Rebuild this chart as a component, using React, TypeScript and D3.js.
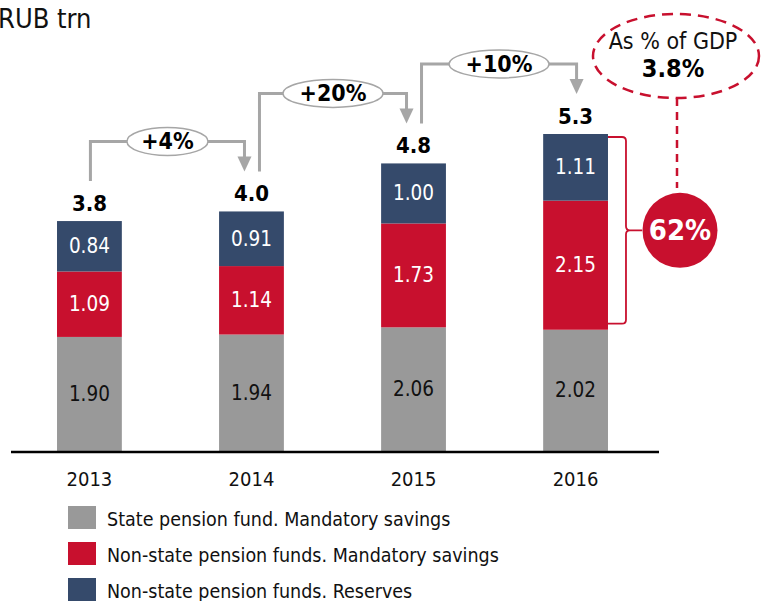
import React from "react";
import * as d3 from "d3";

const years = ["2013", "2014", "2015", "2016"];
const stateMandatory = [1.9, 1.94, 2.06, 2.02];
const nonStateMandatory = [1.09, 1.14, 1.73, 2.15];
const nonStateReserves = [0.84, 0.91, 1.0, 1.11];
const totalLabels = ["3.8", "4.0", "4.8", "5.3"];
const growthLabels = ["+4%", "+20%", "+10%"];
const seriesNames = [
  "State pension fund. Mandatory savings",
  "Non-state pension funds. Mandatory savings",
  "Non-state pension funds. Reserves",
];
const unitLabel = "RUB trn";
const gdpTitle = "As % of GDP";
const gdpValue = "3.8%";
const shareLabel = "62%";

const colors = ["#999999", "#C8102E", "#354A6B"];
const textColors = ["#111111", "#ffffff", "#ffffff"];
const FONT = "'DejaVu Sans Condensed', 'DejaVu Sans', sans-serif";

export default function App() {
  const W = 761;
  const H = 601;
  const baseY = 451;
  const x = d3.scaleBand().domain(years).range([8.4, 656.6]).paddingInner(0.6).paddingOuter(0.3);
  const y = d3.scaleLinear().domain([0, 5.28]).range([baseY, 134]);

  const rows = years.map((yr, i) => ({
    year: yr,
    s0: stateMandatory[i],
    s1: nonStateMandatory[i],
    s2: nonStateReserves[i],
  }));
  const stack = d3.stack<any>().keys(["s0", "s1", "s2"])(rows);
  const totals = rows.map((r) => r.s0 + r.s1 + r.s2);

  const bw = x.bandwidth();
  const cx = (i: number) => (x(years[i]) as number) + bw / 2;
  const labelTop = (i: number) => y(totals[i]) - 26;
  const tipY = (i: number) => labelTop(i) - 14;

  const arrows = growthLabels.map((g, i) => {
    const sx = i === 0 ? cx(i) + 1 : cx(i) + 8;
    const ex = i === 2 ? cx(i + 1) + 1 : cx(i + 1) - 7;
    const sy = i === 0 ? labelTop(i) - 14 : tipY(i);
    const ty = tipY(i + 1);
    const hy = ty - 30;
    return { g, sx, ex, sy, ty, hy };
  });

  const last = 3;
  const bx = (x(years[last]) as number) + bw;
  const bTop = y(totals[last]) + 3;
  const bBot = y(stateMandatory[last]) - 6;
  const bMid = (bTop + bBot) / 2;
  const bV = bx + 18;
  const r = 4;
  const bracket = `M${bx},${bTop} H${bV - r} Q${bV},${bTop} ${bV},${bTop + r} V${bMid - 4} Q${bV},${bMid} ${bV + 4},${bMid} H${bV + 16} M${bV + 4},${bMid} Q${bV},${bMid} ${bV},${bMid + 4} V${bBot - r} Q${bV},${bBot} ${bV - r},${bBot} H${bx}`;
  const circX = 680;
  const circR = 37.5;

  return (
    <svg width={W} height={H} style={{ position: "absolute", left: 0, top: 0, fontFamily: FONT }}>
      <rect width={W} height={H} fill="#fff" />
      <text x={-2} y={28} fontSize={27} fill="#111">{unitLabel}</text>

      {stack.map((layer, li) =>
        layer.map((d, i) => (
          <g key={`${li}-${i}`}>
            <rect x={x(years[i])} y={y(d[1])} width={bw} height={y(d[0]) - y(d[1])} fill={colors[li]} />
            <text x={cx(i)} y={(y(d[0]) + y(d[1])) / 2 + 7} textAnchor="middle" fontSize={20.5} fill={textColors[li]}>
              {(d[1] - d[0]).toFixed(2)}
            </text>
          </g>
        ))
      )}

      {years.map((yr, i) => (
        <g key={yr}>
          <text x={cx(i)} y={y(totals[i]) - 10} textAnchor="middle" fontSize={22} fontWeight="bold" fill="#000">
            {totalLabels[i]}
          </text>
          <text x={cx(i)} y={486} textAnchor="middle" fontSize={20} fill="#111">{yr}</text>
        </g>
      ))}

      <line x1={11} x2={659} y1={baseY + 1} y2={baseY + 1} stroke="#000" strokeWidth={2.5} />

      {arrows.map((a, i) => {
        const midX = (a.sx + a.ex) / 2;
        const rx = i === 0 ? 40.5 : 50;
        return (
          <g key={i}>
            <path d={`M${a.sx},${a.sy} V${a.hy} H${a.ex} V${a.ty - 14}`} fill="none" stroke="#A6A6A6" strokeWidth={3} />
            <path d={`M${a.ex - 7},${a.ty - 15} L${a.ex + 7},${a.ty - 15} L${a.ex},${a.ty} Z`} fill="#A6A6A6" />
            <ellipse cx={midX} cy={a.hy} rx={rx} ry={14} fill="#fff" stroke="#A6A6A6" strokeWidth={1.5} />
            <text x={midX} y={a.hy + 8} textAnchor="middle" fontSize={23} fontWeight="bold" fill="#000">{a.g}</text>
          </g>
        );
      })}

      <path d={bracket} fill="none" stroke="#C8102E" strokeWidth={1.8} />
      <line x1={677} x2={677} y1={98} y2={188} stroke="#C8102E" strokeWidth={2.5} strokeDasharray="8 6" />
      <circle cx={circX} cy={bMid} r={circR} fill="#C8102E" />
      <text x={circX} y={bMid + 10} textAnchor="middle" fontSize={29} fontWeight="bold" fill="#fff">{shareLabel}</text>

      <ellipse cx={676} cy={56} rx={83} ry={42} fill="#fff" stroke="#C8102E" strokeWidth={2.5} strokeDasharray="11 7" />
      <text x={673} y={49} textAnchor="middle" fontSize={23} fill="#111">{gdpTitle}</text>
      <text x={673} y={77} textAnchor="middle" fontSize={25} fontWeight="bold" fill="#000">{gdpValue}</text>

      {seriesNames.map((n, i) => (
        <g key={n}>
          <rect x={68} y={506 + i * 36} width={28} height={23} fill={colors[i]} />
          <text x={107} y={526 + i * 36} fontSize={19.5} fill="#111">{n}</text>
        </g>
      ))}
    </svg>
  );
}
